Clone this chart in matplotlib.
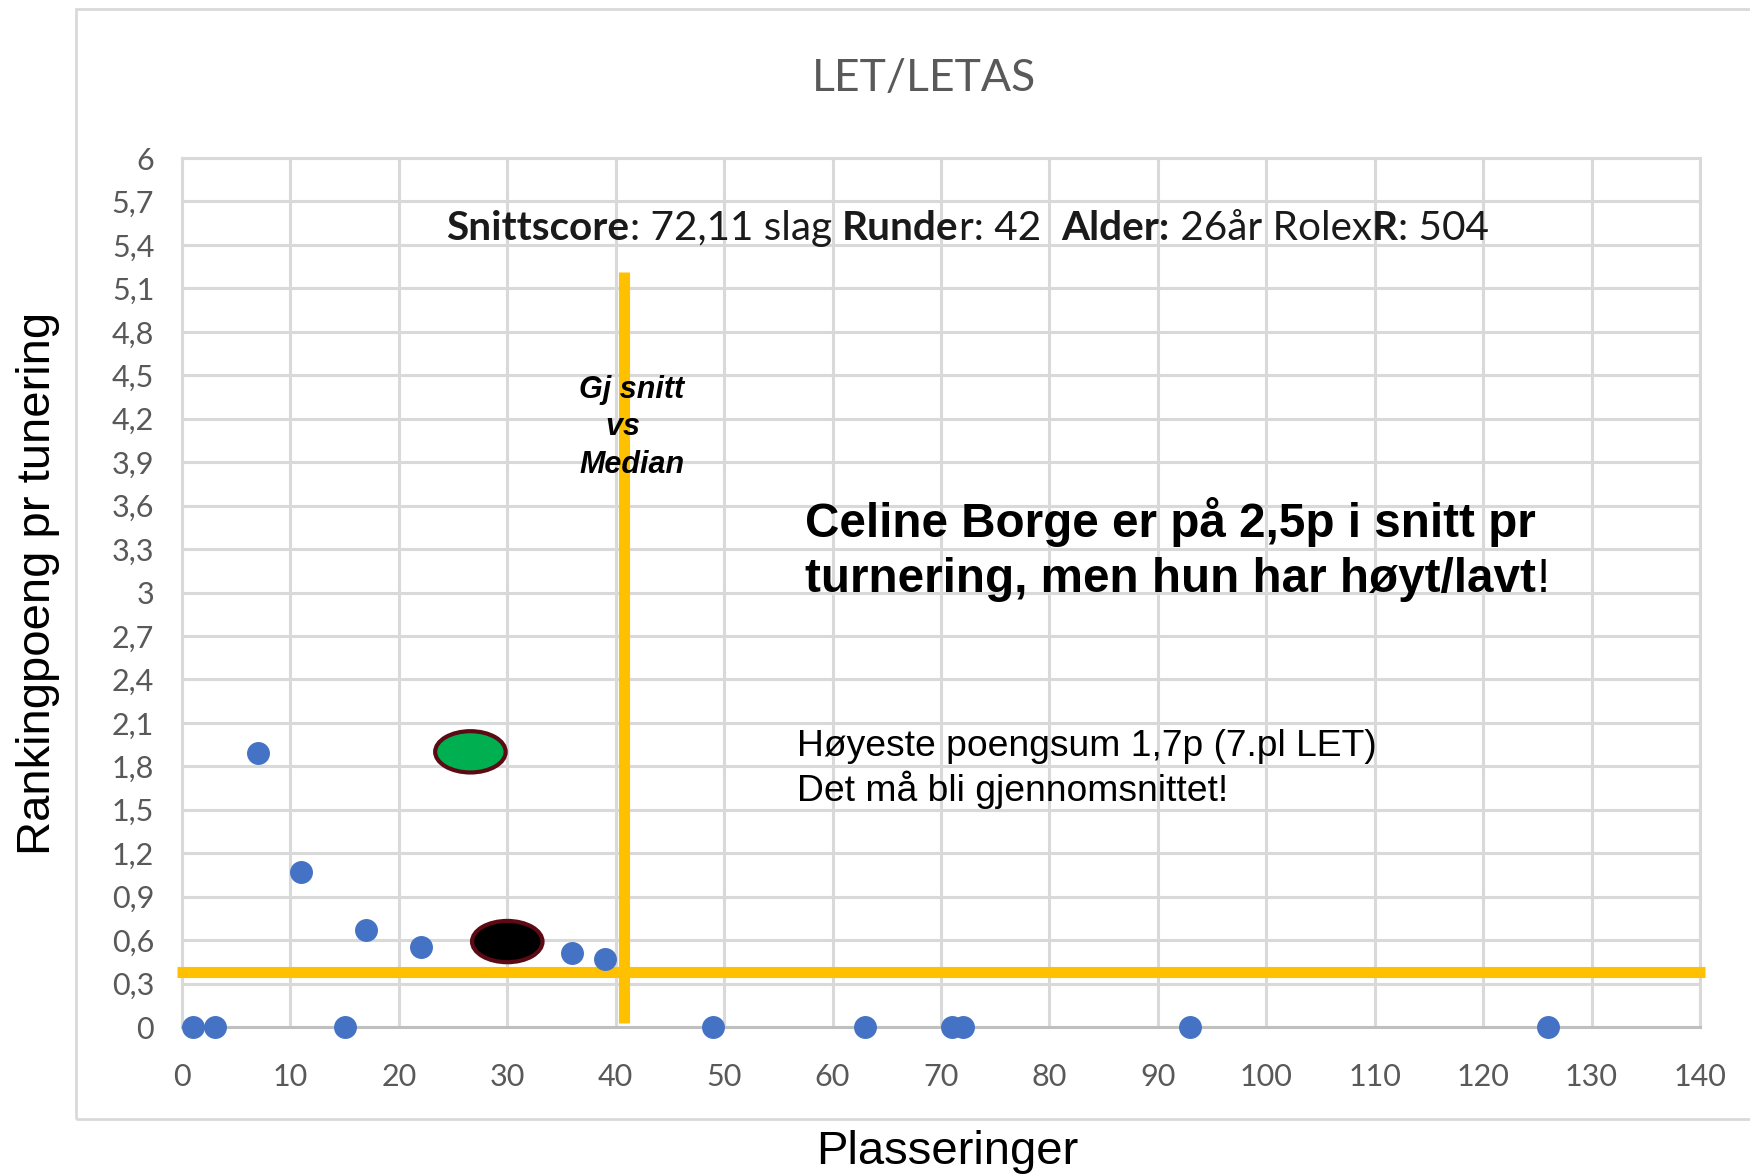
import matplotlib
matplotlib.use("Agg")
import matplotlib.pyplot as plt
from matplotlib.patches import Ellipse, Rectangle

# tournament results: placement vs ranking points
placements = [1, 3, 7, 11, 15, 17, 22, 36, 39, 49, 63, 71, 72, 93, 126]
points = [0, 0, 1.89, 1.07, 0, 0.67, 0.55, 0.51, 0.47, 0, 0, 0, 0, 0, 0]

# highlight ellipses (green = mean, black = median)
highlight_x = [26.6, 30.0]
highlight_y = [1.90, 0.59]
highlight_colors = ["#00B050", "#000000"]

# reference lines
median_line_x = 40.8
median_line_y = [0.03, 5.21]
avg_line_y = 0.38

x_ticks = list(range(0, 141, 10))
y_ticks = [0, 0.3, 0.6, 0.9, 1.2, 1.5, 1.8, 2.1, 2.4, 2.7, 3, 3.3, 3.6,
           3.9, 4.2, 4.5, 4.8, 5.1, 5.4, 5.7, 6]
y_tick_labels = ["0", "0,3", "0,6", "0,9", "1,2", "1,5", "1,8", "2,1", "2,4",
                 "2,7", "3", "3,3", "3,6", "3,9", "4,2", "4,5", "4,8", "5,1",
                 "5,4", "5,7", "6"]

CAL = "Lato"
ARIAL = "Liberation Sans"
GRID = "#d9d9d9"
ORANGE = "#FFC000"

fig = plt.figure(figsize=(17.5, 11.74), dpi=100)
ax = fig.add_axes([0.104, 0.1252, 0.8674, 0.7402])

# outer chart frame
fig.patches.append(Rectangle((0.0434, 0.047), 1.0, 0.945, transform=fig.transFigure,
                             fill=False, ec=GRID, lw=2, clip_on=False))

ax.set_xlim(0, 140)
ax.set_ylim(0, 6)
ax.set_xticks(x_ticks)
ax.set_yticks(y_ticks)
ax.set_yticklabels(y_tick_labels)
ax.grid(True, color=GRID, lw=2.2)
ax.set_axisbelow(True)
for s in ax.spines.values():
    s.set_color(GRID)
    s.set_linewidth(2.2)
ax.spines["bottom"].set_color("#bfbfbf")
ax.tick_params(length=0, labelsize=22, labelcolor="#595959")
ax.tick_params(axis="y", pad=20)
ax.tick_params(axis="x", pad=26)
for lab in ax.get_xticklabels() + ax.get_yticklabels():
    lab.set_family(CAL)

ax.scatter(placements, points, s=240, color="#4472C4", zorder=4, clip_on=False)

for x, y, c in zip(highlight_x, highlight_y, highlight_colors):
    ax.add_patch(Ellipse((x, y), 6.5, 0.285, fc=c, ec="#5C0A14", lw=3, zorder=5))

ax.plot([-0.5, 140.5], [avg_line_y, avg_line_y], color=ORANGE, lw=8,
        solid_capstyle="butt", clip_on=False, zorder=3)
ax.plot([median_line_x, median_line_x], median_line_y, color=ORANGE, lw=8,
        solid_capstyle="butt", clip_on=False, zorder=3)

fig.text(0.528, 0.933, "LET/LETAS", family=CAL, fontsize=32, color="#595959",
         ha="center", va="center")
fig.text(0.541, 0.019, "Plasseringer", family=ARIAL, fontsize=34,
         ha="center", va="center")
fig.text(0.022, 0.503, "Rankingpoeng pr tunering", family=ARIAL, fontsize=34,
         rotation=90, ha="center", va="center")

# stats line with mixed bold parts
parts = [("Snittscore", "bold"), (": 72,11 slag ", "normal"), ("Runde", "bold"),
         ("r: 42  ", "normal"), ("Alder:", "bold"), (" 26år Rolex", "normal"),
         ("R", "bold"), (": 504", "normal")]
t = ax.text(24.4, 5.515, parts[0][0], family=CAL, fontsize=29.2, fontweight=parts[0][1],
            color="#1a1a1a", va="center", ha="left")
for s, w in parts[1:]:
    t = ax.annotate(s, xy=(1, 0), xycoords=t, va="bottom", ha="left",
                    family=CAL, fontsize=29.2, fontweight=w, color="#1a1a1a")

ax.text(41.5, 4.14, "Gj snitt\nvs  \nMedian", family=ARIAL, fontsize=22,
        fontweight="bold", style="italic", ha="center", va="center", linespacing=1.32)

ax.text(57.5, 3.49, "Celine Borge er på 2,5p i snitt pr", family=ARIAL, fontsize=34.3,
        fontweight="bold", ha="left", va="center")
t2 = ax.text(57.5, 3.09, "turnering, men hun har høyt/lavt", family=ARIAL, fontsize=34.3,
             fontweight="bold", ha="left", va="center")
ax.annotate("!", xy=(1, 0), xycoords=t2, va="bottom", ha="left",
            family=ARIAL, fontsize=34.3)

ax.text(56.7, 1.78, "Høyeste poengsum 1,7p (7.pl LET)\nDet må bli gjennomsnittet!",
        family=ARIAL, fontsize=26.8, ha="left", va="center", linespacing=1.22)

fig.savefig("out.png", dpi=100)
